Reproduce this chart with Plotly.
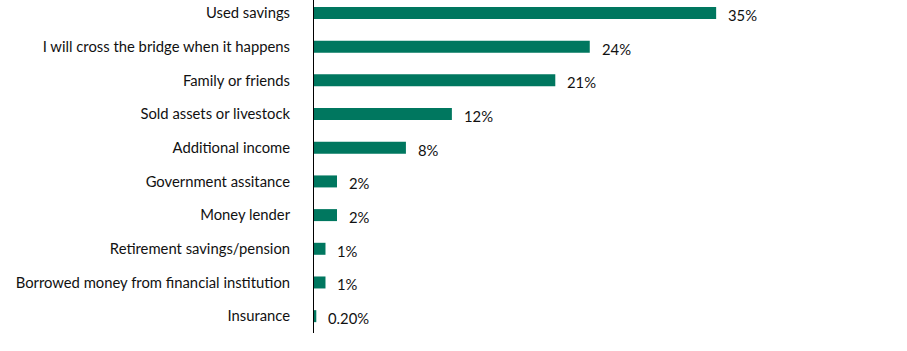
import plotly.graph_objects as go

categories = [
    "Used savings",
    "I will cross the bridge when it happens",
    "Family or friends",
    "Sold assets or livestock",
    "Additional income",
    "Government assitance",
    "Money lender",
    "Retirement savings/pension",
    "Borrowed money from financial institution",
    "Insurance",
]
values = [35, 24, 21, 12, 8, 2, 2, 1, 1, 0.2]
value_labels = ["35%", "24%", "21%", "12%", "8%", "2%", "2%", "1%", "1%", "0.20%"]

BAR_COLOR = "#00775F"
TEXT_COLOR = "#111111"
FONT = "Lato"
FS = 14.8

fig = go.Figure()
fig.add_trace(go.Bar(
    x=values, y=categories, orientation="h",
    marker=dict(color=BAR_COLOR, line=dict(width=0)),
    hoverinfo="skip",
))

for c, v, t in zip(categories, values, value_labels):
    fig.add_annotation(x=v, y=c, text=t, showarrow=False, xanchor="left",
                       xshift=10, yshift=-2, font=dict(family=FONT, size=FS, color=TEXT_COLOR))

fig.update_layout(
    width=907, height=351,
    margin=dict(l=314, r=10, t=0, b=18),
    paper_bgcolor="white", plot_bgcolor="white",
    bargap=0.644,
    showlegend=False,
    font=dict(family=FONT, size=FS, color=TEXT_COLOR),
)
fig.update_xaxes(range=[0, 583 / 11.49], visible=False, showgrid=False, zeroline=False)
fig.update_yaxes(
    type="category",
    range=[9.50, -0.386],
    showline=True, linecolor="black", linewidth=1,
    showgrid=False, zeroline=False, ticks="",
    ticklabelstandoff=20,
    tickfont=dict(family=FONT, size=FS, color=TEXT_COLOR),
)

fig.write_html("out.html")
